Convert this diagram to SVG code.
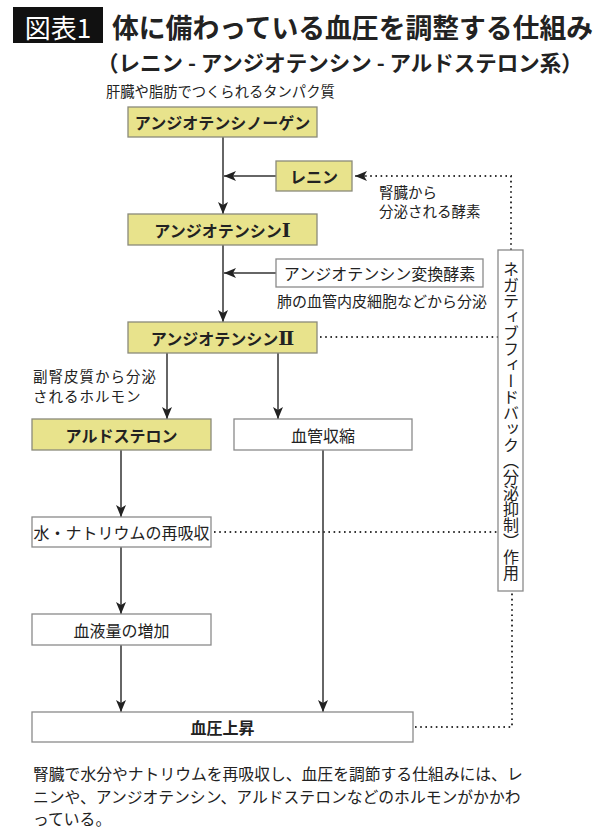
<svg xmlns="http://www.w3.org/2000/svg" width="600" height="832" viewBox="0 0 600 832">
<style>
text{font-family:"Noto Sans CJK JP","Noto Sans",sans-serif;fill:#222;}
.y rect{fill:#e8e38c;stroke:#8a8a7a;stroke-width:1.3;}
.w rect{fill:#fff;stroke:#8a8a8a;stroke-width:1.3;}
.bt{font-size:16px;font-weight:bold;text-anchor:middle;dominant-baseline:central;}
.nt{font-size:16px;text-anchor:middle;dominant-baseline:central;}
.sm{font-size:14.5px;dominant-baseline:central;}
.rn{font-family:"Liberation Serif","DejaVu Serif",serif;font-size:19px;}
.arr{stroke:#333;stroke-width:1.5;fill:none;marker-end:url(#ah);}
.dot{stroke:#333;stroke-width:2;fill:none;stroke-dasharray:1.6 3.6;}
</style>
<defs>
<marker id="ah" viewBox="0 0 12 10" refX="12" refY="5" markerWidth="12" markerHeight="10" markerUnits="userSpaceOnUse" orient="auto">
<path d="M0,0 L12,5 L0,10 L3,5 Z" fill="#222"/>
</marker>
</defs>
<rect width="600" height="832" fill="#fff"/>
<g id="title">
<rect x="13" y="7" width="90" height="36" fill="#111"/>
<text x="58" y="26" style="fill:#fff;font-size:26px;text-anchor:middle;dominant-baseline:central;">図表1</text>
<text x="112" y="26" style="font-size:26.8px;font-weight:bold;dominant-baseline:central;">体に備わっている血圧を調整する仕組み</text>
<text x="97" y="61" style="font-size:21.5px;font-weight:bold;dominant-baseline:central;">（レニン - アンジオテンシン - アルドステロン系）</text>
<text x="106" y="90" class="sm" style="font-size:14.3px">肝臓や脂肪でつくられるタンパク質</text>
</g>
<g id="connectors">
<line x1="223" y1="137" x2="223" y2="214" class="arr"/>
<line x1="276" y1="176" x2="224" y2="176" class="arr"/>
<line x1="223" y1="245" x2="223" y2="322" class="arr"/>
<line x1="276" y1="273" x2="224" y2="273" class="arr"/>
<line x1="167" y1="353" x2="167" y2="419" class="arr"/>
<line x1="278" y1="353" x2="278" y2="419" class="arr"/>
<line x1="121" y1="450" x2="121" y2="517" class="arr"/>
<line x1="121" y1="547" x2="121" y2="614" class="arr"/>
<line x1="121" y1="645" x2="121" y2="712" class="arr"/>
<line x1="323" y1="450" x2="323" y2="712" class="arr"/>
<path d="M511,250 L511,176 L366,176" class="dot"/>
<path d="M366,176 L355,176" stroke="#333" stroke-width="1.5" marker-end="url(#ah)"/>
<line x1="320" y1="337" x2="498" y2="337" class="dot"/>
<line x1="214" y1="532" x2="498" y2="532" class="dot"/>
<path d="M415,727 L512,727 L512,592" class="dot"/>
</g>
<g id="angiotensinogen" class="y">
<rect x="128" y="107" width="189" height="30"/>
<text x="222.5" y="122" class="bt">アンジオテンシノーゲン</text>
</g>
<g id="renin" class="y">
<rect x="276" y="161" width="76" height="30"/>
<text x="314" y="176" class="bt">レニン</text>
</g>
<g id="renin-note">
<text x="379" y="191" class="sm">腎臓から</text>
<text x="379" y="210" class="sm">分泌される酵素</text>
</g>
<g id="angiotensin1" class="y">
<rect x="128" y="214" width="189" height="31"/>
<text x="222.5" y="230" class="bt">アンジオテンシン<tspan class="rn">Ⅰ</tspan></text>
</g>
<g id="ace" class="w">
<rect x="276" y="259" width="207" height="28"/>
<text x="379.5" y="273" class="nt">アンジオテンシン変換酵素</text>
</g>
<g id="ace-note">
<text x="277" y="300" class="sm" style="font-size:15px">肺の血管内皮細胞などから分泌</text>
</g>
<g id="angiotensin2" class="y">
<rect x="128" y="322" width="189" height="31"/>
<text x="222.5" y="338" class="bt">アンジオテンシン<tspan class="rn">Ⅱ</tspan></text>
</g>
<g id="aldo-note">
<text x="33" y="375" class="sm" style="font-size:14.5px;letter-spacing:1px">副腎皮質から分泌</text>
<text x="33" y="395" class="sm" style="font-size:14.5px;letter-spacing:1px">されるホルモン</text>
</g>
<g id="aldosterone" class="y">
<rect x="32" y="419" width="179" height="31"/>
<text x="121.5" y="435" class="bt">アルドステロン</text>
</g>
<g id="vasoconstriction" class="w">
<rect x="234" y="419" width="178" height="31"/>
<text x="323" y="435" class="nt">血管収縮</text>
</g>
<g id="reabsorption" class="w">
<rect x="32" y="517" width="179" height="30"/>
<text x="121.5" y="532" class="nt">水・ナトリウムの再吸収</text>
</g>
<g id="blood-volume" class="w">
<rect x="32" y="614" width="179" height="31"/>
<text x="121.5" y="630" class="nt">血液量の増加</text>
</g>
<g id="bp-rise" class="w">
<rect x="32" y="712" width="381" height="30"/>
<text x="222.5" y="727" class="bt">血圧上昇</text>
</g>
<g id="feedback" class="w">
<rect x="498" y="250" width="25" height="341"/>
<text x="511" y="261" style="font-size:16px;writing-mode:vertical-rl;">ネガティブフィードバック（分泌抑制）作用</text>
</g>
<g id="caption">
<text x="33" y="773" style="font-size:15.8px;dominant-baseline:central;">腎臓で水分やナトリウムを再吸収し、血圧を調節する仕組みには、レ</text>
<text x="33" y="796" style="font-size:15.8px;dominant-baseline:central;">ニンや、アンジオテンシン、アルドステロンなどのホルモンがかかわ</text>
<text x="33" y="818" style="font-size:15.8px;dominant-baseline:central;">っている。</text>
</g>
</svg>
